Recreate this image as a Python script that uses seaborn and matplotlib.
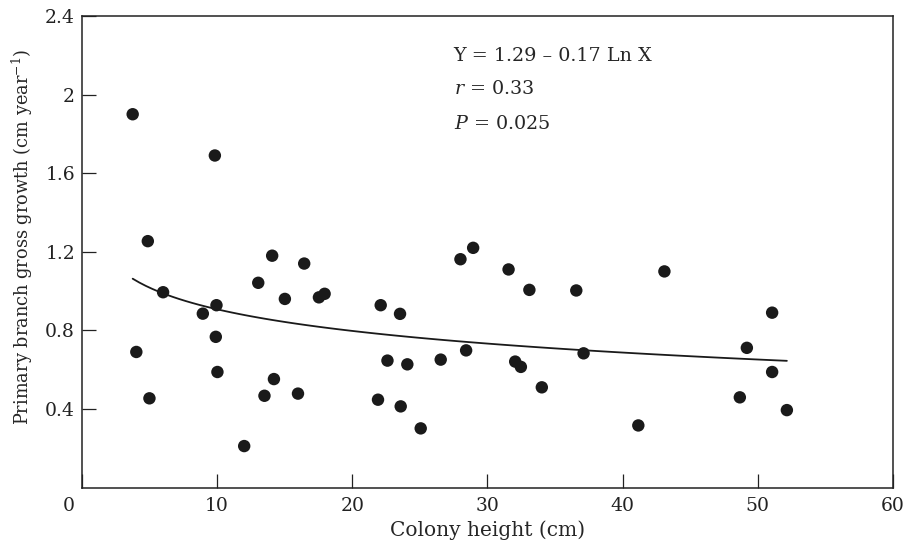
import numpy as np
import pandas as pd
import matplotlib
matplotlib.use("Agg")
import matplotlib.pyplot as plt
import matplotlib.transforms as mtransforms
import seaborn as sns

# Datos
altura = [3.75, 9.83, 4.87, 14.07, 16.44, 13.04, 6.0, 15.01, 17.53, 17.95,
          9.95, 8.94, 22.1, 9.9, 4.02, 10.02, 14.2, 4.99, 13.5, 15.98,
          21.9, 12.0, 23.53, 22.6, 24.07, 23.58, 25.06, 28.0, 28.94, 26.54,
          28.42, 31.56, 33.1, 32.05, 32.47, 34.02, 36.57, 37.11, 41.16, 43.09,
          49.19, 51.06, 51.06, 48.67, 52.15]
crecimiento = [1.90, 1.69, 1.254, 1.18, 1.14, 1.042, 0.994, 0.96, 0.968, 0.986,
               0.928, 0.885, 0.928, 0.767, 0.69, 0.588, 0.552, 0.454, 0.467, 0.478,
               0.447, 0.211, 0.884, 0.646, 0.627, 0.413, 0.301, 1.162, 1.22, 0.651,
               0.698, 1.11, 1.006, 0.641, 0.614, 0.51, 1.003, 0.683, 0.316, 1.10,
               0.711, 0.89, 0.588, 0.459, 0.394]
x_ticks = [0, 10, 20, 30, 40, 50, 60]
y_ticks = [0.4, 0.8, 1.2, 1.6, 2.0, 2.4]
y_labels = ["0.4", "0.8", "1.2", "1.6", "2", "2.4"]

df = pd.DataFrame({"altura": altura, "crecimiento": crecimiento})

sns.set_style("ticks")
plt.rcParams["font.family"] = ["DejaVu Serif"]
plt.rcParams["mathtext.fontset"] = "dejavuserif"

fig = plt.figure(figsize=(9.04, 5.5), dpi=100)
ax = fig.add_axes([0.0907, 0.1136, 0.8971, 0.8573])

sns.scatterplot(data=df, x="altura", y="crecimiento", ax=ax, color="#1a1a1a",
                s=80, edgecolor="none", zorder=3)
sns.regplot(data=df, x="altura", y="crecimiento", ax=ax, logx=True, ci=None,
            scatter=False, line_kws={"color": "#1a1a1a", "lw": 1.3})

ax.set_xlim(0, 60)
ax.set_ylim(0, 2.4)
ax.set_xticks(x_ticks)
ax.set_xticklabels([str(t) for t in x_ticks])
ax.set_yticks(y_ticks)
ax.set_yticklabels(y_labels)
ax.tick_params(direction="in", length=10, width=0.9, labelsize=13.5,
               colors="#222222")
ax.tick_params(axis="x", pad=7)
ax.tick_params(axis="y", pad=5)
for s in ax.spines.values():
    s.set_color("#222222")
    s.set_linewidth(1.1)

# el "0" del eje x esta desplazado a la izquierda
lbl0 = ax.get_xticklabels()[0]
lbl0.set_transform(lbl0.get_transform() + mtransforms.ScaledTranslation(-0.13, 0, fig.dpi_scale_trans))

ax.set_xlabel("Colony height (cm)", fontsize=14.5, labelpad=4)
ax.set_ylabel("Primary branch gross growth (cm year$^{-1}$)", fontsize=12.8, labelpad=7)
ax.yaxis.label.set_y(0.531)

ax.text(27.5, 2.195, "Y = 1.29 – 0.17 Ln X", fontsize=13.8, va="center")
ax.text(27.5, 2.027, "$r$ = 0.33", fontsize=13.8, va="center")
ax.text(27.5, 1.849, "$P$ = 0.025", fontsize=13.8, va="center")

plt.savefig("out.png", dpi=100)
